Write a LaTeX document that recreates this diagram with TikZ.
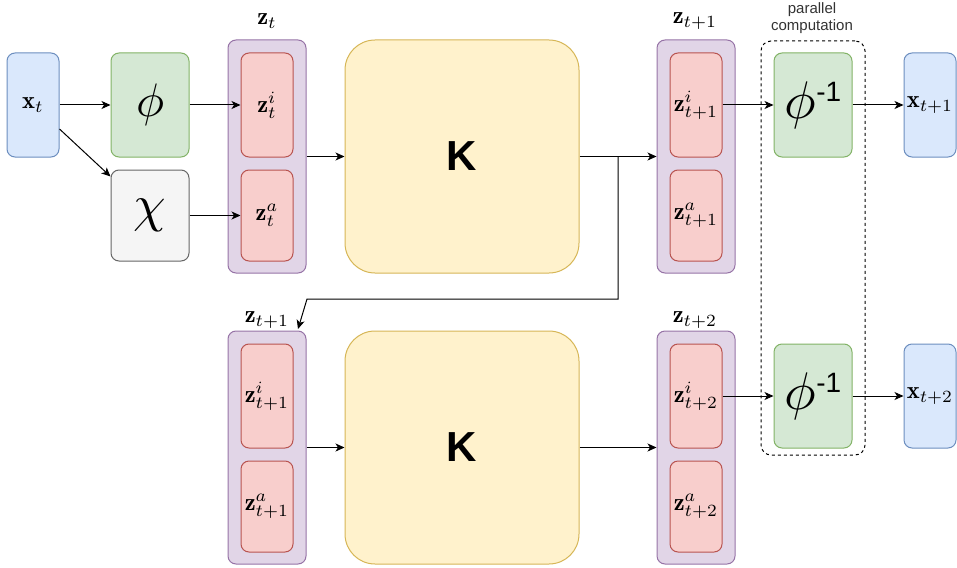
\documentclass[tikz,border=0pt]{standalone}
\usepackage{fontspec}
\setsansfont{Liberation Sans}
\usetikzlibrary{arrows.meta}
\definecolor{bluef}{HTML}{DAE8FC}\definecolor{blued}{HTML}{6C8EBF}
\definecolor{greenf}{HTML}{D5E8D4}\definecolor{greend}{HTML}{82B366}
\definecolor{grayf}{HTML}{F5F5F5}\definecolor{grayd}{HTML}{666666}
\definecolor{purpf}{HTML}{E1D5E7}\definecolor{purpd}{HTML}{9673A6}
\definecolor{redf}{HTML}{F8CECC}\definecolor{redd}{HTML}{B85450}
\definecolor{yelf}{HTML}{FFF2CC}\definecolor{yeld}{HTML}{D6B656}
\tikzset{
  box/.style={rectangle, rounded corners=8pt, line width=1pt, inner sep=0pt},
  iobox/.style={box, fill=bluef, draw=blued, minimum width=52pt, minimum height=104pt},
  encbox/.style={box, fill=greenf, draw=greend, minimum width=78pt, minimum height=104pt},
  auxbox/.style={box, fill=grayf, draw=grayd, minimum width=78pt, minimum height=91pt},
  statebox/.style={box, fill=purpf, draw=purpd, minimum width=78pt, minimum height=233pt},
  partbox/.style={box, fill=redf, draw=redd, minimum width=52pt},
  kbox/.style={box, rounded corners=30pt, fill=yelf, draw=yeld, minimum width=234pt, minimum height=233pt,
    font=\fontsize{42}{42}\sffamily\bfseries},
  arr/.style={-{Stealth[length=9pt,width=8pt,inset=2.5pt]}, line width=1pt, black},
}
% math label at enlarged size
\newcommand{\mlbl}[1]{\scalebox{2.45}{$#1$}}
\newcommand{\phiinvtext}{\scalebox{5.3}{$\phi$}\raisebox{17pt}{\fontsize{28}{28}\selectfont\sffamily -1}}
\begin{document}
\begin{tikzpicture}[x=1pt,y=-1pt]
\useasboundingbox (0,0) rectangle (957,567);

% parallel computation frame
\node[draw, dashed, dash pattern=on 3pt off 3pt, line width=1pt, rounded corners=10pt,
      minimum width=104pt, minimum height=414pt] (par) at (813,248) {};
\node[font=\fontsize{15}{17}\sffamily, align=center, text=black!80, inner sep=0pt] (partxt) at (812,18) {parallel\\computation};

% top row
\node[iobox] (xt) at (33,105) {\mlbl{\mathbf{x}_t}};
\node[encbox] (phi) at (150,105) {\scalebox{4.7}{$\phi$}};
\node[auxbox] (chi) at (150,215.5) {\scalebox{5.2}{$\chi$}};

\node[statebox] (zt) at (267,156.5) {};
\node (ztl) at (267,21) {\mlbl{\mathbf{z}_t}};
\node[partbox, minimum height=104pt] (zti) at (267,105) {\mlbl{\mathbf{z}_t^i}};
\node[partbox, minimum height=91pt] (zta) at (267,215.5) {\mlbl{\mathbf{z}_t^a}};

\node[kbox] (K1) at (462,156.5) {K};

\node[statebox] (z1) at (696,156.5) {};
\node (z1l) at (695,21) {\mlbl{\mathbf{z}_{t+1}}};
\node[partbox, minimum height=104pt] (z1i) at (696,105) {\mlbl{\mathbf{z}_{t+1}^i}};
\node[partbox, minimum height=91pt] (z1a) at (696,215.5) {\mlbl{\mathbf{z}_{t+1}^a}};

\node[encbox] (pi1) at (813,105) {\phiinvtext};
\node[iobox] (xt1) at (930,105) {\mlbl{\mathbf{x}_{t+1}}};

% bottom row
\node[statebox] (z1b) at (267,447.5) {};
\node (z1bl) at (267,320) {\mlbl{\mathbf{z}_{t+1}}};
\node[partbox, minimum height=104pt] (z1bi) at (267,396) {\mlbl{\mathbf{z}_{t+1}^i}};
\node[partbox, minimum height=91pt] (z1ba) at (267,506.5) {\mlbl{\mathbf{z}_{t+1}^a}};

\node[kbox] (K2) at (462,447.5) {K};

\node[statebox] (z2) at (696,447.5) {};
\node (z2l) at (695,320) {\mlbl{\mathbf{z}_{t+2}}};
\node[partbox, minimum height=104pt] (z2i) at (696,396) {\mlbl{\mathbf{z}_{t+2}^i}};
\node[partbox, minimum height=91pt] (z2a) at (696,506.5) {\mlbl{\mathbf{z}_{t+2}^a}};

\node[encbox] (pi2) at (813,396) {\phiinvtext};
\node[iobox] (xt2) at (930,396) {\mlbl{\mathbf{x}_{t+2}}};

% connectors
\draw[arr] (xt.east) -- (phi.west);
\draw[arr] ([yshift=-24pt]xt.east) -- ([yshift=-7pt]chi.north west);
\draw[arr] (phi.east) -- (zti.west);
\draw[arr] (chi.east) -- (zta.west);
\draw[arr] (zt.east) -- (K1.west);
\draw[arr] (K1.east) -- (z1.west);
\coordinate (split) at (618,156.5);
\coordinate (turn) at (307,299);
\coordinate (feed) at (298,329);
\draw[arr] (split) |- (turn) -- (feed);
\draw[arr] (z1i.east) -- (pi1.west);
\draw[arr] (pi1.east) -- (xt1.west);
\draw[arr] (z1b.east) -- (K2.west);
\draw[arr] (K2.east) -- (z2.west);
\draw[arr] (z2i.east) -- (pi2.west);
\draw[arr] (pi2.east) -- (xt2.west);
\end{tikzpicture}
\end{document}
